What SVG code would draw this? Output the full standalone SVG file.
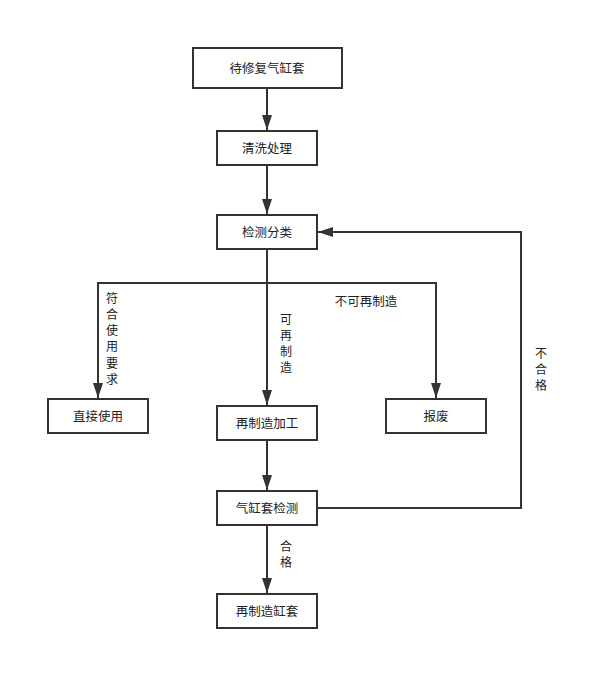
<svg xmlns="http://www.w3.org/2000/svg" width="614" height="690" viewBox="0 0 614 690">
<style>
.box{fill:#fff;stroke:#333;stroke-width:2}
.t{font-family:"Noto Sans CJK SC","Liberation Sans",sans-serif;font-size:12.5px;fill:#222;text-anchor:middle;dominant-baseline:central}
.v{font-size:12px}
.ln{fill:none;stroke:#333;stroke-width:2}
</style>
<defs>
<marker id="ah" viewBox="0 0 10 10" refX="10" refY="5" markerWidth="15" markerHeight="10" markerUnits="userSpaceOnUse" orient="auto" preserveAspectRatio="none">
<path d="M0,0 L10,5 L0,10 z" fill="#333"/>
</marker>
</defs>
<rect width="614" height="690" fill="#fff"/>
<g id="connectors">
<path class="ln" d="M267,88 V130" marker-end="url(#ah)"/>
<path class="ln" d="M267,165 V214" marker-end="url(#ah)"/>
<path class="ln" d="M267,249 V405" marker-end="url(#ah)"/>
<path class="ln" d="M267,283 H436 V398" marker-end="url(#ah)"/>
<path class="ln" d="M267,283 H98 V398" marker-end="url(#ah)"/>
<path class="ln" d="M267,440 V490" marker-end="url(#ah)"/>
<path class="ln" d="M267,525 V593" marker-end="url(#ah)"/>
<path class="ln" d="M317,508 H521 V232 H318" marker-end="url(#ah)"/>
<g class="t">
<text class="t v" x="112" y="297">符</text><text class="t v" x="112" y="313">合</text><text class="t v" x="112" y="329">使</text><text class="t v" x="112" y="345">用</text><text class="t v" x="112" y="362">要</text><text class="t v" x="112" y="378">求</text>
<text class="t v" x="286" y="318">可</text><text class="t v" x="286" y="334">再</text><text class="t v" x="286" y="350">制</text><text class="t v" x="286" y="366">造</text>
<text x="366" y="300">不可再制造</text>
<text class="t v" x="541" y="352">不</text><text class="t v" x="541" y="368">合</text><text class="t v" x="541" y="384">格</text>
<text class="t v" x="286" y="545">合</text><text class="t v" x="286" y="561">格</text>
</g>
</g>
<g id="n1"><rect class="box" x="193" y="48" width="149" height="40"/><text class="t" x="267" y="67">待修复气缸套</text></g>
<g id="n2"><rect class="box" x="217" y="131" width="100" height="34"/><text class="t" x="267" y="147">清洗处理</text></g>
<g id="n3"><rect class="box" x="217" y="215" width="100" height="34"/><text class="t" x="267" y="231">检测分类</text></g>
<g id="n4"><rect class="box" x="48" y="399" width="100" height="34"/><text class="t" x="98" y="415">直接使用</text></g>
<g id="n5"><rect class="box" x="217" y="406" width="100" height="34"/><text class="t" x="267" y="422">再制造加工</text></g>
<g id="n6"><rect class="box" x="386" y="399" width="100" height="34"/><text class="t" x="436" y="415">报废</text></g>
<g id="n7"><rect class="box" x="217" y="491" width="100" height="34"/><text class="t" x="267" y="507">气缸套检测</text></g>
<g id="n8"><rect class="box" x="217" y="594" width="100" height="34"/><text class="t" x="267" y="610">再制造缸套</text></g>
</svg>
